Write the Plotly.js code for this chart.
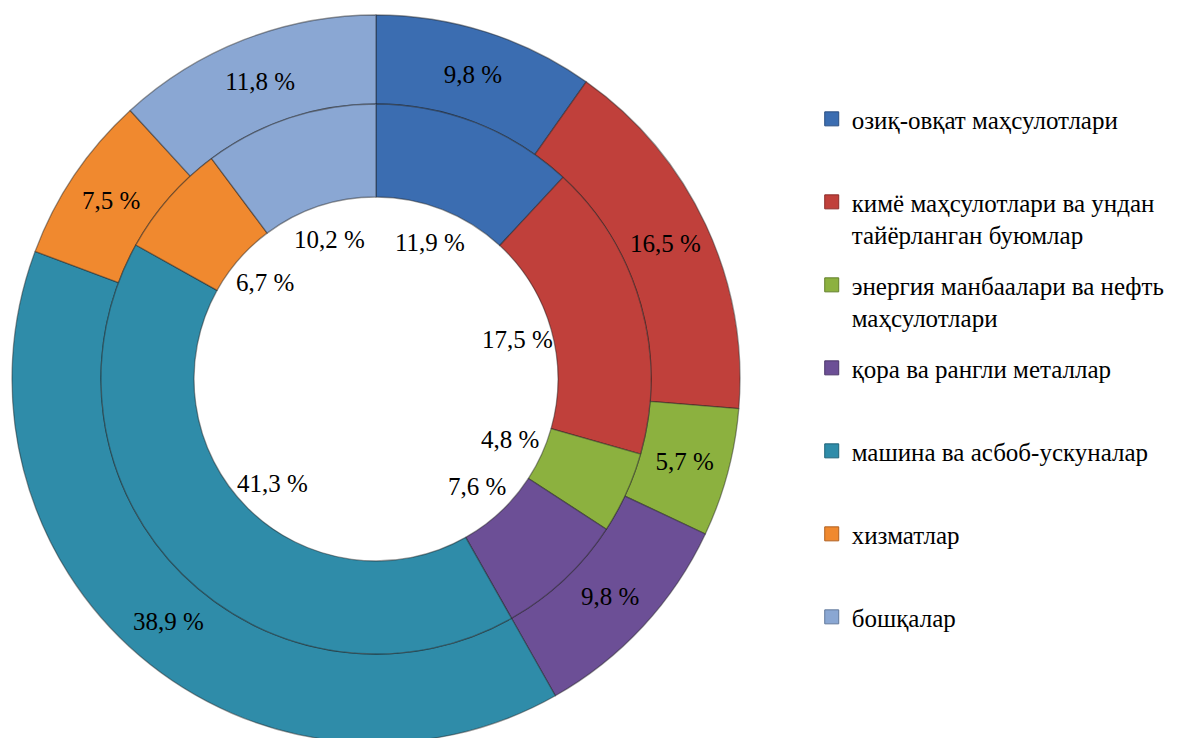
<!DOCTYPE html>
<html><head><meta charset="utf-8">
<script src="https://cdn.plot.ly/plotly-3.0.1.min.js"></script>
<style>html,body{margin:0;padding:0;overflow:hidden;background:#fff}</style>
</head><body>
<div id="chart" style="width:1185px;height:745px"></div>
<script>
const categories = [
  "озиқ-овқат маҳсулотлари",
  "кимё маҳсулотлари ва ундан<br>тайёрланган буюмлар",
  "энергия манбаалари ва нефть<br>маҳсулотлари",
  "қора ва рангли металлар",
  "машина ва асбоб-ускуналар",
  "хизматлар",
  "бошқалар"
];
const outerValues = [9.8, 16.5, 5.7, 9.8, 38.9, 7.5, 11.8];
const innerValues = [11.9, 17.5, 4.8, 7.6, 41.3, 6.7, 10.2];
const colors = ["#3b6db1", "#c0403b", "#8cb13f", "#6c4f96", "#2f8ca9", "#f0892f", "#8aa7d3"];
const edgeColors = ["#2a4f82", "#8c2b28", "#637f2b", "#4b366a", "#1f6378", "#b06020", "#62799c"];

const W = 1185, H = 745;
const CX = 376, CY = 379;
const R_OUT = 364, R_OUT_IN = 275, R_IN = 275, R_HOLE = 182, R_LABEL = 147;
const FAMILY = 'Liberation Serif';
const fmt = v => v.toFixed(1).replace('.', ',') + ' %';
const mkFont = () => ({family: FAMILY, size: 25, color: "#000000"});

function dom(r) {
  return {
    x: [(CX - r) / W, (CX + r) / W],
    y: [(H - CY - r) / H, (H - CY + r) / H]
  };
}

const plainLabels = categories.map(c => c.replace(/<br>/g, ' '));

const outer = {
  type: 'pie', values: outerValues, labels: plainLabels,
  domain: dom(R_OUT), hole: R_OUT_IN / R_OUT,
  sort: false, direction: 'clockwise', rotation: 0,
  marker: {colors: colors, line: {color: 'rgba(30,30,30,0.45)', width: 1.3}},
  text: outerValues.map(fmt), textinfo: 'text', textposition: 'inside',
  insidetextorientation: 'horizontal', insidetextfont: mkFont(), textfont: mkFont(),
  showlegend: false, hoverinfo: 'label+text'
};
const inner = {
  type: 'pie', values: innerValues, labels: plainLabels,
  domain: dom(R_IN), hole: R_HOLE / R_IN,
  sort: false, direction: 'clockwise', rotation: 0,
  marker: {colors: colors, line: {color: 'rgba(30,30,30,0.45)', width: 1.3}},
  textinfo: 'none', showlegend: false, hoverinfo: 'label+value'
};

// inner ring labels placed in the hole, at the angular centre of each slice
const innerTotal = innerValues.reduce((a, b) => a + b, 0);
let cum = 0;
const annotations = innerValues.map(v => {
  const mid = (cum + v / 2) / innerTotal * 2 * Math.PI;
  cum += v;
  const px = CX + R_LABEL * Math.sin(mid);
  const py = CY - R_LABEL * Math.cos(mid);
  return {x: px / W, y: (H - py) / H, xref: 'paper', yref: 'paper',
          text: fmt(v), showarrow: false, font: mkFont(), xanchor: 'center', yanchor: 'middle'};
});

// legend entries
const legendTraces = categories.map((c, i) => ({
  type: 'scatter', mode: 'markers', x: [null], y: [null],
  name: c.includes('<br>') ? c : c + '<br>\u00a0',
  legendgroup: 'g' + i,
  marker: {symbol: 'square', size: 14, color: colors[i], line: {color: edgeColors[i], width: 1}},
  hoverinfo: 'skip'
}));

const layout = {
  width: W, height: H,
  margin: {l: 0, r: 0, t: 0, b: 0},
  paper_bgcolor: '#fff', plot_bgcolor: '#fff',
  font: mkFont(),
  xaxis: {visible: false, domain: [0.99, 1]},
  yaxis: {visible: false, domain: [0.99, 1]},
  showlegend: true,
  legend: {
    x: 0.685, y: 0.871, xanchor: 'left', yanchor: 'top',
    font: mkFont(), bgcolor: 'rgba(0,0,0,0)', borderwidth: 0,
    traceorder: 'grouped', tracegroupgap: 15, valign: 'top',
    itemclick: false, itemdoubleclick: false
  },
  annotations: annotations
};

Plotly.newPlot('chart', [outer, inner, ...legendTraces], layout, {displayModeBar: false});
</script></body></html>
